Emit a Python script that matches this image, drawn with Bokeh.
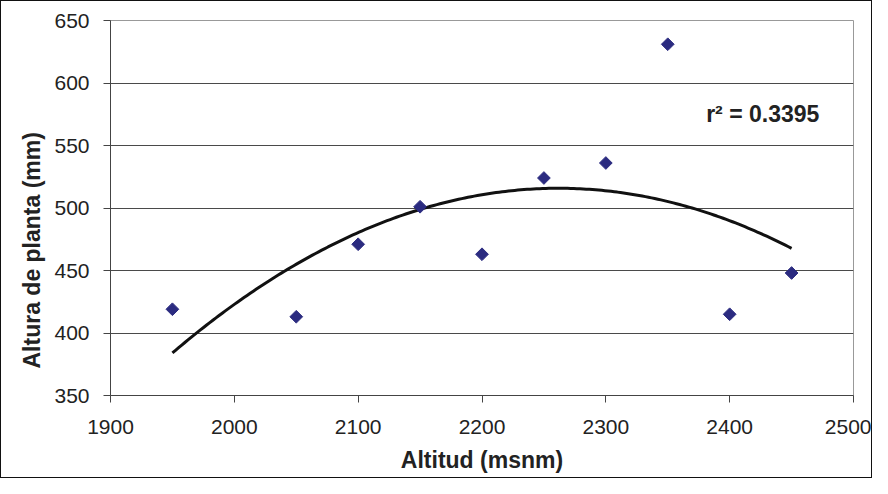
import numpy as np
from bokeh.plotting import figure
from bokeh.models import Range1d, FixedTicker, Label, Title
from bokeh.embed import file_html
from bokeh.resources import INLINE

altitud = [1950, 2050, 2100, 2150, 2200, 2250, 2300, 2350, 2400, 2450]
altura = [419, 413, 471, 501, 463, 524, 536, 631, 415, 448]
r2_text = "r² = 0.3395"
x_title = "Altitud (msnm)"
y_title = "Altura de planta (mm)"

coef = np.polyfit(altitud, altura, 2)
xs = np.linspace(min(altitud), max(altitud), 200)
ys = np.polyval(coef, xs)

p = figure(width=872, height=478, output_backend="svg", toolbar_location=None,
           x_range=Range1d(1900, 2500), y_range=Range1d(350, 650),
           min_border_left=109, min_border_right=20, min_border_top=19, min_border_bottom=84)
p.styles = {"border": "1px solid #111", "box-sizing": "border-box"}

p.outline_line_color = "#999999"
p.xgrid.visible = False
p.ygrid.grid_line_color = "#4a4a4a"
p.ygrid.grid_line_width = 1

font = "Liberation Sans"
for ax in (p.xaxis[0], p.yaxis[0]):
    ax.axis_line_color = "#444444"
    ax.major_tick_line_color = "#444444"
    ax.major_tick_out = 7
    ax.major_tick_in = 0
    ax.minor_tick_line_color = None
    ax.major_label_text_font = font
    ax.major_label_text_font_size = "21px"
    ax.major_label_text_color = "#222222"
    ax.axis_label_text_font = font
    ax.axis_label_text_font_size = "23px"
    ax.axis_label_text_font_style = "bold"
    ax.axis_label_text_color = "#222222"

p.xaxis.ticker = FixedTicker(ticks=list(range(1900, 2501, 100)))
p.yaxis.ticker = FixedTicker(ticks=list(range(350, 651, 50)))
p.xaxis.axis_label = x_title
p.xaxis.major_label_standoff = 17
p.yaxis.major_label_standoff = 14
p.xaxis.axis_label_standoff = 10

p.line(xs, ys, line_color="#111111", line_width=3)
p.scatter(altitud, altura, marker="square", angle=np.pi / 4, size=9,
          fill_color="#2B2B80", line_color="#2B2B80")

p.add_layout(Label(x=2381, y=575, text=r2_text, text_font=font, text_font_size="23px",
                   text_font_style="bold", text_color="#222222", text_baseline="middle"))
p.add_layout(Title(text=y_title, align="left", offset=27, standoff=10, vertical_align="top",
                   text_font=font, text_font_size="23px", text_font_style="bold",
                   text_color="#222222"), "left")

open("out.html", "w").write(file_html(p, INLINE))
